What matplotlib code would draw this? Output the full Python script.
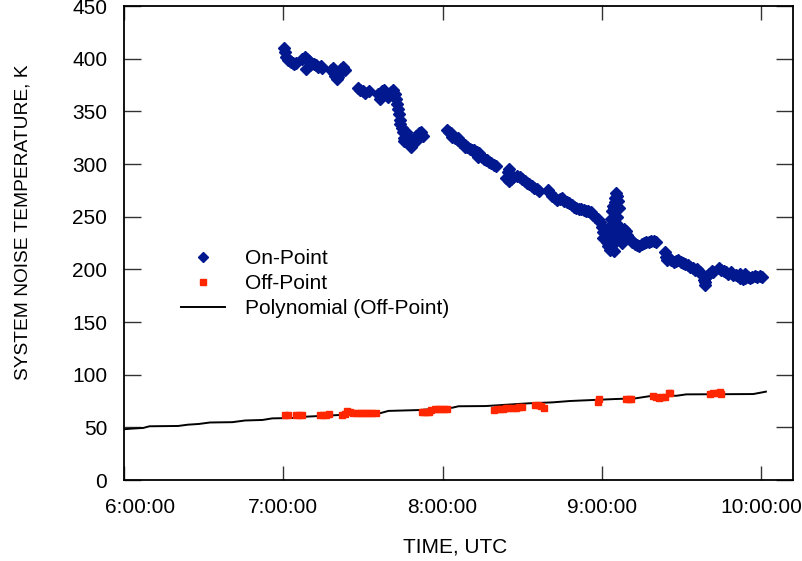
import matplotlib
matplotlib.use("Agg")
import matplotlib.pyplot as plt
from matplotlib.ticker import FuncFormatter, MultipleLocator
from matplotlib.transforms import ScaledTranslation

plt.rcParams['font.family'] = ['Liberation Sans', 'DejaVu Sans']

# время в часах UTC (десятичные), температура в K
on_time = [
    7.005, 7.012, 7.02, 7.03, 7.04, 7.05, 7.06, 7.07, 7.08,
    7.12, 7.135, 7.15, 7.16, 7.175, 7.19, 7.205, 7.22, 7.235, 7.245, 7.14, 7.17,
    7.30, 7.31, 7.32, 7.335, 7.35, 7.36, 7.375, 7.385, 7.325, 7.345,
    7.47, 7.48, 7.50, 7.515, 7.535,
    7.595, 7.61, 7.62, 7.635, 7.645, 7.66, 7.675, 7.69, 7.70, 7.71,
    7.715, 7.72, 7.725, 7.73, 7.735, 7.745, 7.75, 7.755, 7.76,
    7.77, 7.78, 7.79, 7.80, 7.81, 7.82, 7.835, 7.85, 7.865, 7.875, 7.795, 7.84,
    8.03, 8.04, 8.05, 8.065, 8.08, 8.095, 8.11, 8.125, 8.14, 8.155, 8.17,
    8.185, 8.20, 8.215, 8.23, 8.245, 8.26, 8.275, 8.29, 8.305, 8.32, 8.335,
    8.06, 8.10, 8.14, 8.22, 8.28,
    8.40, 8.41, 8.42, 8.415, 8.43, 8.44,
    8.47, 8.485, 8.50, 8.515, 8.53, 8.545, 8.56, 8.575, 8.59, 8.605,
    8.66, 8.675, 8.69, 8.705, 8.72, 8.735, 8.75, 8.765, 8.78, 8.795, 8.81,
    8.825, 8.84, 8.855, 8.87, 8.885, 8.90, 8.915, 8.93, 8.945, 8.96, 8.975,
    8.99, 9.00, 9.005, 9.01, 9.02, 9.03, 9.035, 9.04, 9.05, 9.06, 9.055, 9.045,
    9.06, 9.065, 9.07, 9.075, 9.08, 9.085, 9.09, 9.095, 9.10, 9.105, 9.095,
    9.09, 9.08, 9.07, 9.08, 9.09, 9.10, 9.11, 9.12, 9.115, 9.125, 9.13, 9.07, 9.075,
    9.14, 9.15, 9.16, 9.17, 9.18, 9.19, 9.205, 9.22, 9.235, 9.25, 9.265, 9.28,
    9.295, 9.31, 9.325, 9.34,
    9.395, 9.40, 9.41, 9.42, 9.435, 9.45, 9.465, 9.48, 9.495, 9.51, 9.525,
    9.54, 9.555, 9.57, 9.585, 9.60, 9.615, 9.63, 9.64, 9.645, 9.65, 9.66,
    9.675, 9.69, 9.70,
    9.735, 9.75, 9.765, 9.78, 9.795, 9.81, 9.825, 9.84, 9.855, 9.87, 9.885,
    9.90, 9.915, 9.93, 9.945, 9.96, 9.975, 9.99, 10.005, 9.87, 9.90,
]
on_temp = [
    410, 406, 402, 399, 398, 397, 396, 395, 396,
    400, 402, 400, 398, 396, 395, 394, 392, 393, 391, 390.5, 394,
    389, 391, 386, 381, 386, 390, 392, 389, 384, 383,
    372, 370, 369, 367, 369,
    366, 362, 369, 370, 366, 364, 368, 370, 366, 362,
    357, 352, 347, 342, 338, 334, 330, 325, 322,
    330, 325, 320, 316, 320, 325, 327, 329, 330, 327, 323, 323,
    332, 330, 329, 327, 325, 323, 321, 320, 318, 316, 314,
    313, 313, 311, 310, 307, 305, 304, 302, 301, 299, 298,
    326, 325, 316, 307, 304,
    287, 292, 295, 284, 286, 288,
    289, 288, 286, 284, 282, 281, 279, 277, 276, 274,
    275, 272, 270, 268, 266, 267, 268, 265, 264, 263, 261,
    259, 258, 257, 257, 256, 255, 255, 254, 252, 250, 248,
    245, 240, 235, 230, 236, 232, 226, 222, 218, 220, 228, 240,
    248, 255, 260, 258, 264, 268, 272, 270, 265, 258, 250,
    244, 238, 232, 228, 232, 236, 240, 234, 228, 225, 231, 224, 217,
    238, 236, 233, 230, 228, 226, 224, 223, 222, 224, 225, 226,
    226, 227, 227, 226,
    216, 212, 209, 211, 209, 207, 208, 209, 207, 206, 205,
    204, 202, 201, 199, 200, 197, 195, 190, 185, 188, 194,
    196, 198, 197,
    201, 199, 198, 197, 196, 197, 195, 195, 194, 192, 191,
    192, 193, 192, 193, 194, 193, 194, 193, 196, 196,
]

off_time = [
    7.01, 7.03,
    7.08, 7.10, 7.115,
    7.23, 7.25, 7.27, 7.285,
    7.37, 7.385, 7.40, 7.42, 7.44, 7.46, 7.48, 7.50, 7.52, 7.54, 7.56, 7.58,
    7.87, 7.885, 7.90, 7.915, 7.93, 7.95, 7.97, 7.99, 8.01, 8.025,
    8.32, 8.34, 8.36, 8.38, 8.40, 8.42, 8.44, 8.46, 8.48, 8.50,
    8.58, 8.60, 8.62, 8.635,
    8.975, 8.98,
    9.15, 9.17, 9.185,
    9.32, 9.34, 9.36, 9.38, 9.395,
    9.42, 9.43,
    9.68, 9.70, 9.72, 9.74, 9.75,
]
off_temp = [
    61.5, 61.5,
    62, 62, 62,
    62, 61.5, 62, 62.5,
    62, 63, 65.5, 64.5, 64, 64, 64, 64, 64, 64, 64, 64,
    65, 64.5, 65, 65, 66, 67, 67.5, 67.5, 67.5, 67,
    66.5, 67, 67.5, 67.5, 68, 68, 68.5, 68.5, 69, 69,
    71, 71, 70.5, 68.5,
    74, 77,
    76.5, 77, 76.5,
    80, 78.5, 78, 78.5, 79,
    83, 82.5,
    82, 83, 83, 83.5, 82,
]

# линия тренда (полином по Off-Point)
poly_time = [6.0, 6.05, 6.12, 6.16, 6.34, 6.40, 6.47, 6.54, 6.68, 6.76, 6.87,
             6.93, 7.06, 7.14, 7.35, 7.61, 7.66, 7.85, 8.06, 8.10, 8.27, 8.54,
             8.69, 8.80, 8.86, 9.09, 9.21, 9.30, 9.47, 9.53, 9.95, 10.0, 10.03]
poly_temp = [48.2, 48.8, 49.4, 51.0, 51.3, 52.5, 53.2, 54.6, 54.9, 56.5, 57.0,
             58.5, 58.9, 60.1, 61.7, 63.5, 65.6, 66.4, 68.6, 70.0, 70.2, 72.8,
             73.7, 75.0, 75.4, 76.9, 77.5, 79.6, 80.0, 81.3, 81.6, 83.0, 83.9]

hour_ticks = [6, 7, 8, 9, 10]

fig = plt.figure(figsize=(8.03, 5.61), dpi=100)
ax = fig.add_axes([124 / 803, 1 - 480 / 561, 669 / 803, 474 / 561])

ax.plot(poly_time, poly_temp, color="black", lw=1.4, label="Polynomial (Off-Point)", zorder=2)
ax.plot(off_time, off_temp, ls="none", marker="s", ms=4.6, color="#FF2600",
        mec="#FF2600", label="Off-Point", zorder=3)
ax.plot(on_time, on_temp, ls="none", marker="D", ms=6.0, color="#02188F",
        mec="#02188F", label="On-Point", zorder=4)

ax.set_xlim(6, 10.2)
ax.set_ylim(0, 450)
ax.set_xticks(hour_ticks)
ax.xaxis.set_major_formatter(FuncFormatter(lambda v, p: f"{int(round(v))}:00:00"))
ax.yaxis.set_major_locator(MultipleLocator(50))

ax.tick_params(axis="y", which="major", direction="in", length=12, width=1.0,
               labelsize=15, pad=12, left=True, right=True, color="#333333")
ax.tick_params(axis="x", which="major", direction="in", length=10, width=1.0,
               labelsize=15, pad=13, bottom=True, top=True, color="#333333")
for sp in ax.spines.values():
    sp.set_linewidth(1.3)

# Excel сдвигает первую подпись вправо
first = ax.xaxis.get_major_ticks()[0].label1
first.set_transform(first.get_transform() + ScaledTranslation(0.16, 0, fig.dpi_scale_trans))

fig.text(23 / 803, 1 - 222 / 561, "SYSTEM NOISE TEMPERATURE, K", rotation=90,
         ha="center", va="center", fontsize=13.8)
fig.text(455 / 803, 1 - 547 / 561, "TIME, UTC", ha="center", va="center", fontsize=15)

h, l = ax.get_legend_handles_labels()
order = [2, 1, 0]
ax.legend([h[i] for i in order], [l[i] for i in order], loc="upper left",
          bbox_to_anchor=(181 / 803, 1 - 249 / 561), bbox_transform=fig.transFigure,
          frameon=False, fontsize=15, handlelength=2.1, handletextpad=0.95,
          labelspacing=0.3, borderpad=0, borderaxespad=0, markerscale=0.9)

fig.savefig("out.png", dpi=100)
